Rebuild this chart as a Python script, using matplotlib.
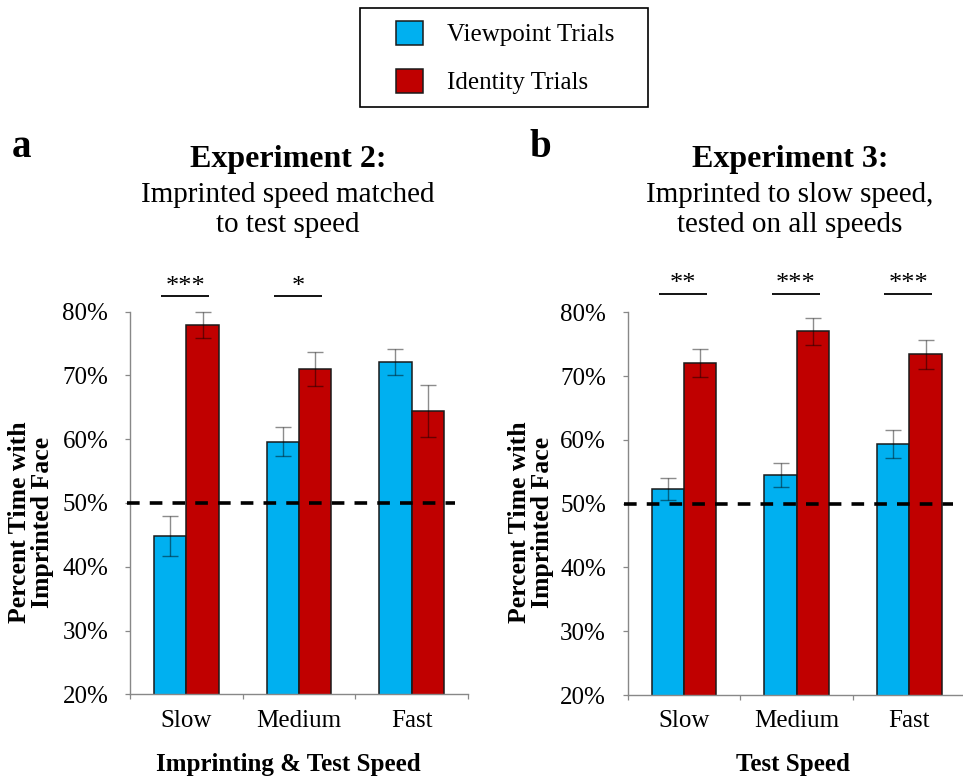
import matplotlib
matplotlib.use('Agg')
import matplotlib.pyplot as plt
import numpy as np
from matplotlib.patches import Rectangle

plt.rcParams['font.family'] = ['Liberation Serif', 'DejaVu Serif']

# ---------------- data ----------------
categories = ['Slow', 'Medium', 'Fast']
series_names = ['Viewpoint Trials', 'Identity Trials']
exp2_viewpoint = [44.8, 59.6, 72.1]
exp2_viewpoint_err = [3.1, 2.3, 2.0]
exp2_identity = [77.9, 71.0, 64.4]
exp2_identity_err = [2.0, 2.7, 4.1]
exp3_viewpoint = [52.3, 54.5, 59.4]
exp3_viewpoint_err = [1.7, 1.9, 2.2]
exp3_identity = [72.0, 77.0, 73.4]
exp3_identity_err = [2.2, 2.1, 2.3]
exp2_sig = ['***', '*', '']
exp3_sig = ['**', '***', '***']
chance_level = 50
yticks = [20, 30, 40, 50, 60, 70, 80]
ytick_labels = ['20%', '30%', '40%', '50%', '60%', '70%', '80%']

BLUE = '#00B0F0'
RED = '#C00000'

W, H = 963, 778
fig = plt.figure(figsize=(W / 100, H / 100), dpi=100)


def fx(px):
    return px / W


def fy(py):
    return 1 - py / H


ax_a = fig.add_axes([fx(130), fy(694.3), fx(338), 382.6 / H])
ax_b = fig.add_axes([fx(627.7), fy(695.0), fx(338), 382.7 / H])

bw = 0.287


def draw_panel(ax, vp, vp_err, idv, id_err, sig, sig_y):
    x = np.arange(len(categories))
    b1 = ax.bar(x - bw / 2, vp, bw, color=BLUE, edgecolor='#1a1a1a',
                linewidth=1.1, zorder=2, label=series_names[0])
    b2 = ax.bar(x + bw / 2, idv, bw, color=RED, edgecolor='#1a1a1a',
                linewidth=1.1, zorder=2, label=series_names[1])
    for xs, v, e in ((x - bw / 2, vp, vp_err), (x + bw / 2, idv, id_err)):
        eb = ax.errorbar(xs, v, yerr=e, fmt='none', ecolor='black',
                         elinewidth=1.0, capsize=5.5, capthick=1.0,
                         alpha=0.45, zorder=3)
        for ln in eb.lines[1]:
            ln.set_clip_on(False)
        for lc in eb.lines[2]:
            lc.set_clip_on(False)
    ax.hlines(chance_level, -0.53, 2.385, colors='black', linewidth=2.6,
              linestyles=(0, (3.5, 2.8)), zorder=4, clip_on=False)
    for xi, s in zip(x, sig):
        if s:
            ax.plot([xi - 0.222, xi + 0.205], [sig_y, sig_y], color='black',
                    lw=1.3, clip_on=False, solid_capstyle='butt')
            ax.text(xi - 0.01, sig_y + 0.55, s, ha='center', va='baseline',
                    fontsize=19, clip_on=False)
    ax.set_xlim(-0.5, 2.5)
    ax.set_ylim(20, 80)
    ax.set_yticks(yticks)
    ax.set_yticklabels(ytick_labels)
    ax.set_xticks(x)
    ax.set_xticklabels(categories)
    ax.set_xticks([-0.5, 0.5, 1.5, 2.5], minor=True)
    for s in ('top', 'right'):
        ax.spines[s].set_visible(False)
    for s in ('left', 'bottom'):
        ax.spines[s].set_color('#888888')
        ax.spines[s].set_linewidth(1.0)
    ax.tick_params(axis='y', length=3.6, width=0.9, color='#888888',
                   pad=12, labelsize=18)
    ax.tick_params(axis='x', which='major', length=0, pad=11, labelsize=18)
    ax.tick_params(axis='x', which='minor', length=3.6, width=0.9,
                   color='#888888')
    return b1, b2


handles = draw_panel(ax_a, exp2_viewpoint, exp2_viewpoint_err, exp2_identity,
                     exp2_identity_err, exp2_sig, 82.4)
draw_panel(ax_b, exp3_viewpoint, exp3_viewpoint_err, exp3_identity,
           exp3_identity_err, exp3_sig, 82.9)

# titles
fig.text(fx(288), fy(166.7), 'Experiment 2:', ha='center', va='baseline',
         fontsize=23, fontweight='bold')
fig.text(fx(288), fy(201.7), 'Imprinted speed matched', ha='center',
         va='baseline', fontsize=21)
fig.text(fx(288), fy(232.5), 'to test speed', ha='center', va='baseline',
         fontsize=21)
fig.text(fx(790), fy(166.7), 'Experiment 3:', ha='center', va='baseline',
         fontsize=23, fontweight='bold')
fig.text(fx(790), fy(201.7), 'Imprinted to slow speed,', ha='center',
         va='baseline', fontsize=21)
fig.text(fx(790), fy(232.5), 'tested on all speeds', ha='center',
         va='baseline', fontsize=21)

fig.text(fx(12), fy(157), 'a', ha='left', va='baseline', fontsize=28,
         fontweight='bold')
fig.text(fx(529), fy(157), 'b', ha='left', va='baseline', fontsize=28,
         fontweight='bold')

# y labels
for xc in (31, 531):
    fig.text(fx(xc), fy(522), 'Percent Time with\nImprinted Face',
             rotation=90, ha='center', va='center', fontsize=18.5,
             fontweight='bold', multialignment='center', linespacing=1.02)

# x titles
fig.text(fx(288), fy(771.5), 'Imprinting & Test Speed', ha='center',
         va='baseline', fontsize=18, fontweight='bold')
fig.text(fx(792.5), fy(771.5), 'Test Speed', ha='center', va='baseline',
         fontsize=18, fontweight='bold')

# legend
fig.legend(handles, series_names, loc='upper left',
           bbox_to_anchor=(fx(395.7), fy(20.5)), frameon=False, borderpad=0,
           borderaxespad=0, handlelength=1.1, handleheight=1.1,
           handletextpad=0.94, labelspacing=0.92, fontsize=18)
fig.add_artist(Rectangle((fx(360), fy(106.7)), fx(287.7), 98.4 / H,
                         transform=fig.transFigure, fill=False,
                         edgecolor='black', linewidth=1.2))

fig.savefig('out.png', dpi=100)
